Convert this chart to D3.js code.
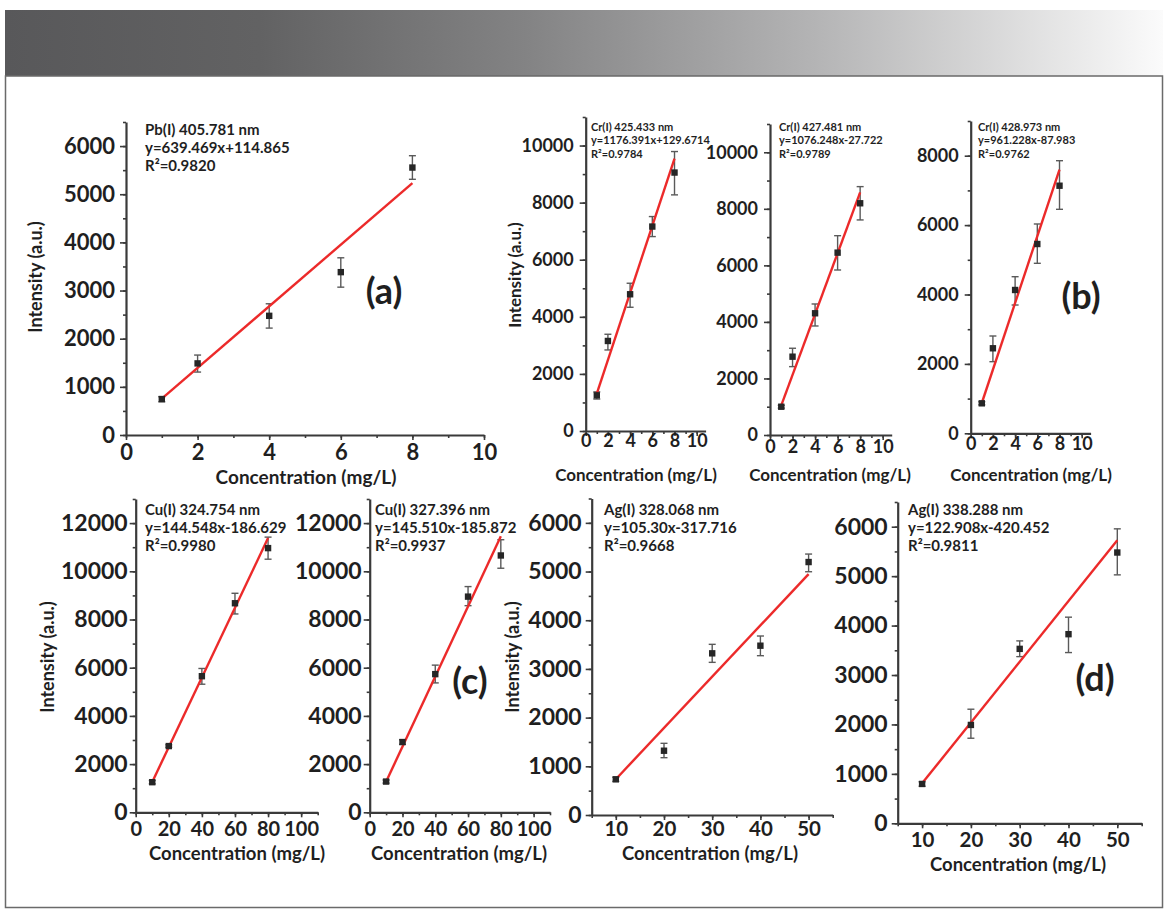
<!DOCTYPE html>
<html>
<head>
<meta charset="utf-8">
<script src="https://cdn.jsdelivr.net/npm/d3@7"></script>
<style>
  body { margin: 0; background: #fff; }
  svg { display: block; }
  text { font-family: Lato, "DejaVu Sans", sans-serif; font-weight: 700; fill: #1f1f1f; }
</style>
</head>
<body>
<div id="chart"></div>
<script>
// ---- datos ----
// concentraciones (mg/L)
const concCr = [1, 2, 4, 6, 8];
const concCu = [10, 20, 40, 60, 80];
const concAg = [10, 20, 30, 40, 50];

// Pb(I) 405.781 nm
const pbMean = [747, 1487, 2475, 3382, 5554];
const pbLow  = [690, 1307, 2220, 3070, 5310];
const pbHigh = [795, 1660, 2725, 3680, 5800];

// Cr(I) 425.433 nm
const cr425Mean = [1250, 3154, 4790, 7162, 9054];
const cr425Low  = [1120, 2839, 4335, 6811, 8272];
const cr425High = [1370, 3389, 5176, 7512, 9790];

// Cr(I) 427.481 nm
const cr427Mean = [1000, 2770, 4305, 6450, 8196];
const cr427Low  = [950, 2418, 3856, 5836, 7607];
const cr427High = [1050, 3068, 4634, 7050, 8785];

// Cr(I) 428.973 nm
const cr428Mean = [864, 2450, 4130, 5455, 7135];
const cr428Low  = [820, 2064, 3697, 4899, 6455];
const cr428High = [910, 2804, 4513, 6032, 7856];

// Cu(I) 324.754 nm
const cu324Mean = [1249, 2748, 5647, 8674, 10962];
const cu324Low  = [1180, 2700, 5315, 8230, 10502];
const cu324High = [1320, 2800, 5968, 9088, 11418];

// Cu(I) 327.396 nm
const cu327Mean = [1275, 2915, 5733, 8949, 10657];
const cu327Low  = [1210, 2820, 5369, 8574, 10127];
const cu327High = [1340, 3010, 6107, 9366, 11310];

// Ag(I) 328.068 nm
const ag328Mean = [733, 1320, 3320, 3477, 5195];
const ag328Low  = [690, 1177, 3135, 3272, 4996];
const ag328High = [775, 1472, 3505, 3676, 5359];

// Ag(I) 338.288 nm
const ag338Mean = [796, 1990, 3529, 3826, 5478];
const ag338Low  = [750, 1721, 3372, 3454, 5026];
const ag338High = [840, 2308, 3690, 4170, 5957];

// rectas de calibrado (de las ecuaciones impresas)
const lineNames  = ["Pb(I) 405.781 nm", "Cr(I) 425.433 nm", "Cr(I) 427.481 nm", "Cr(I) 428.973 nm",
                    "Cu(I) 324.754 nm", "Cu(I) 327.396 nm", "Ag(I) 328.068 nm", "Ag(I) 338.288 nm"];
const equations  = ["y=639.469x+114.865", "y=1176.391x+129.6714", "y=1076.248x-27.722", "y=961.228x-87.983",
                    "y=144.548x-186.629", "y=145.510x-185.872", "y=105.30x-317.716", "y=122.908x-420.452"];
const r2Labels   = ["R²=0.9820", "R²=0.9784", "R²=0.9789", "R²=0.9762",
                    "R²=0.9980", "R²=0.9937", "R²=0.9668", "R²=0.9811"];
const slopes     = [639.469, 1176.391, 1076.248, 961.228, 144.548, 145.510, 105.30, 122.908];
const intercepts = [114.865, 129.6714, -27.722, -87.983, -186.629, -185.872, -317.716, -420.452];

// ticks
const ticksX10  = [0, 2, 4, 6, 8, 10];
const ticksX100 = [0, 20, 40, 60, 80, 100];
const ticksX50  = [10, 20, 30, 40, 50];
const ticksY6000  = [0, 1000, 2000, 3000, 4000, 5000, 6000];
const ticksY8000  = [0, 2000, 4000, 6000, 8000];
const ticksY10000 = [0, 2000, 4000, 6000, 8000, 10000];
const ticksY12000 = [0, 2000, 4000, 6000, 8000, 10000, 12000];

const xTitle = "Concentration (mg/L)";
const yTitle = "Intensity (a.u.)";
const panelTags = ["(a)", "(b)", "(c)", "(d)"];

// ---- series (tabla construida desde los arrays) ----
const series = [
  { x: concCr, m: pbMean,    lo: pbLow,    hi: pbHigh },
  { x: concCr, m: cr425Mean, lo: cr425Low, hi: cr425High },
  { x: concCr, m: cr427Mean, lo: cr427Low, hi: cr427High },
  { x: concCr, m: cr428Mean, lo: cr428Low, hi: cr428High },
  { x: concCu, m: cu324Mean, lo: cu324Low, hi: cu324High },
  { x: concCu, m: cu327Mean, lo: cu327Low, hi: cu327High },
  { x: concAg, m: ag328Mean, lo: ag328Low, hi: ag328High },
  { x: concAg, m: ag338Mean, lo: ag338Low, hi: ag338High }
];

// ---- posiciones de cada gráfico (px) ----
const layout = [
  { x0: 126, x1: 484, yb: 435, yt: 122, xd: [0, 10], yd: [0, 6500], xt: ticksX10, xm: d3.range(0, 11, 1),
    yt_: ticksY6000, ym: d3.range(0, 6501, 500), fy: 22, fx: 22, xoff: 17, ypad: 5,
    ann: [145, 129], fa: 15, lh: 18, xtl: [306, 476], ftx: 19, ytl: [35, 277], fty: 18 },
  { x0: 585.7, x1: 705.6, yb: 431, yt: 117, xd: [0, 10.8], yd: [0, 11000], xt: ticksX10, xm: d3.range(0, 10.9, 1),
    yt_: ticksY10000, ym: d3.range(0, 11001, 1000), fy: 18, fx: 18, xoff: 10, ypad: 6,
    ann: [591, 126], fa: 11, lh: 13.5, xtl: [636, 474], ftx: 17, ytl: [514, 275], fty: 17 },
  { x0: 770, x1: 891.7, yb: 435, yt: 124, xd: [0, 10.8], yd: [0, 11000], xt: ticksX10, xm: d3.range(0, 10.9, 1),
    yt_: ticksY10000, ym: d3.range(0, 11001, 1000), fy: 18, fx: 18, xoff: 12, ypad: 6,
    ann: [779, 126], fa: 11, lh: 13.5, xtl: [830, 474], ftx: 17 },
  { x0: 970.7, x1: 1090.6, yb: 433.3, yt: 121, xd: [0, 10.8], yd: [0, 9000], xt: ticksX10, xm: d3.range(0, 10.9, 1),
    yt_: ticksY8000, ym: d3.range(0, 9001, 1000), fy: 18, fx: 18, xoff: 10, ypad: 6,
    ann: [978, 126], fa: 11, lh: 13.5, xtl: [1031, 474], ftx: 17 },
  { x0: 135.7, x1: 317.7, yb: 812.3, yt: 499, xd: [0, 110], yd: [0, 13000], xt: ticksX100, xm: d3.range(0, 111, 10),
    yt_: ticksY12000, ym: d3.range(0, 13001, 1000), fy: 23, fx: 20, xoff: 17, ypad: 2,
    ann: [145, 509], fa: 15, lh: 18, xtl: [237, 853], ftx: 18.5, ytl: [47, 657], fty: 18 },
  { x0: 369.7, x1: 550, yb: 812.3, yt: 499, xd: [0, 110], yd: [0, 13000], xt: ticksX100, xm: d3.range(0, 111, 10),
    yt_: ticksY12000, ym: d3.range(0, 13001, 1000), fy: 23, fx: 20, xoff: 17, ypad: 2,
    ann: [375, 509], fa: 15, lh: 18, xtl: [459, 853], ftx: 18.5 },
  { x0: 591.7, x1: 832.7, yb: 815, yt: 498.5, xd: [5, 55], yd: [0, 6500], xt: ticksX50, xm: d3.range(5, 56, 5),
    yt_: ticksY6000, ym: d3.range(0, 6501, 500), fy: 23, fx: 20.5, xoff: 14, ypad: 4,
    ann: [604, 509], fa: 15, lh: 18, xtl: [710, 853], ftx: 18.5, ytl: [512, 657], fty: 18 },
  { x0: 897.7, x1: 1141.7, yb: 823.3, yt: 502, xd: [5, 55], yd: [0, 6500], xt: ticksX50, xm: d3.range(5, 56, 5),
    yt_: ticksY6000, ym: d3.range(0, 6501, 500), fy: 23, fx: 20.5, xoff: 16.5, ypad: 4,
    ann: [908, 509], fa: 15, lh: 18, xtl: [1018, 864], ftx: 18.5 }
];
const tagPos = [[384, 290], [1081, 295], [470, 680], [1095, 677]];

const W = 1172, H = 920;
const svg = d3.select("#chart").append("svg").attr("width", W).attr("height", H);

// ---- cabecera con degradado y marco ----
const grad = svg.append("defs").append("linearGradient").attr("id", "hdr");
[[0, "#58585a"], [0.22, "#626263"], [0.45, "#838384"], [0.7, "#b4b4b5"], [1, "#fbfbfb"]]
  .forEach(([o, c]) => grad.append("stop").attr("offset", o).attr("stop-color", c));
svg.append("rect").attr("x", 5).attr("y", 10).attr("width", 1158).attr("height", 66).attr("fill", "url(#hdr)");
svg.append("rect").attr("x", 5.5).attr("y", 76).attr("width", 1157).attr("height", 831.5)
  .attr("fill", "none").attr("stroke", "#6a6a6a").attr("stroke-width", 1.5);

function styleAxis(g) {
  g.selectAll(".domain").attr("stroke", "#3a3a3a").attr("stroke-width", 2.2);
  g.selectAll(".tick line").attr("stroke", "#3a3a3a").attr("stroke-width", 1.6);
}

layout.forEach((p, i) => {
  const s = series[i];
  const x = d3.scaleLinear(p.xd, [p.x0, p.x1]);
  const y = d3.scaleLinear(p.yd, [p.yb, p.yt]);
  const g = svg.append("g");

  // ticks menores
  g.append("g").attr("transform", `translate(0,${p.yb})`)
    .call(d3.axisBottom(x).tickValues(p.xm).tickSize(3).tickFormat(""))
    .call(styleAxis).call(a => a.select(".domain").remove());
  g.append("g").attr("transform", `translate(${p.x0},0)`)
    .call(d3.axisLeft(y).tickValues(p.ym).tickSize(3).tickFormat(""))
    .call(styleAxis).call(a => a.select(".domain").remove());

  // ejes principales
  const xpad = p.xoff - 0.36 * p.fx - 5;
  g.append("g").attr("transform", `translate(0,${p.yb})`)
    .call(d3.axisBottom(x).tickValues(p.xt).tickSize(5).tickSizeOuter(0).tickPadding(xpad).tickFormat(d3.format("d")))
    .call(styleAxis)
    .call(a => a.selectAll("text").attr("font-size", p.fx).attr("fill", "#1f1f1f"));
  g.append("g").attr("transform", `translate(${p.x0},0)`)
    .call(d3.axisLeft(y).tickValues(p.yt_).tickSize(6).tickSizeOuter(0).tickPadding(p.ypad).tickFormat(d3.format("d")))
    .call(styleAxis)
    .call(a => a.selectAll("text").attr("font-size", p.fy).attr("fill", "#1f1f1f"));
  g.selectAll(".tick text").style("font-family", "Lato, 'DejaVu Sans', sans-serif").style("font-weight", 700);

  // barras de error
  const eb = g.append("g").attr("stroke", "#5a5a5a").attr("stroke-width", 1.4);
  s.x.forEach((c, k) => {
    const cx = x(c);
    eb.append("line").attr("x1", cx).attr("x2", cx).attr("y1", y(s.lo[k])).attr("y2", y(s.hi[k]));
    eb.append("line").attr("x1", cx - 3.5).attr("x2", cx + 3.5).attr("y1", y(s.hi[k])).attr("y2", y(s.hi[k]));
    eb.append("line").attr("x1", cx - 3.5).attr("x2", cx + 3.5).attr("y1", y(s.lo[k])).attr("y2", y(s.lo[k]));
  });

  // recta de ajuste
  const xa = s.x[0], xb = s.x[s.x.length - 1];
  g.append("line")
    .attr("x1", x(xa)).attr("y1", y(slopes[i] * xa + intercepts[i]))
    .attr("x2", x(xb)).attr("y2", y(slopes[i] * xb + intercepts[i]))
    .attr("stroke", "#ec2a2a").attr("stroke-width", 2.4);

  // puntos
  g.append("g").selectAll("rect").data(s.x.map((c, k) => [c, s.m[k]])).join("rect")
    .attr("x", d => x(d[0]) - 3.2).attr("y", d => y(d[1]) - 3.2)
    .attr("width", 6.4).attr("height", 6.4).attr("fill", "#262626");

  // anotación
  [lineNames[i], equations[i], r2Labels[i]].forEach((t, k) => {
    g.append("text").attr("x", p.ann[0]).attr("y", p.ann[1] + k * p.lh)
      .attr("dominant-baseline", "central").attr("font-size", p.fa).text(t);
  });

  // títulos de ejes
  g.append("text").attr("x", p.xtl[0]).attr("y", p.xtl[1])
    .attr("text-anchor", "middle").attr("dominant-baseline", "central")
    .attr("font-size", p.ftx).text(xTitle);
  if (p.ytl) {
    g.append("text").attr("transform", `translate(${p.ytl[0]},${p.ytl[1]}) rotate(-90)`)
      .attr("text-anchor", "middle").attr("dominant-baseline", "central")
      .attr("font-size", p.fty).text(yTitle);
  }
});

// etiquetas (a)-(d)
panelTags.forEach((t, k) => {
  svg.append("text").attr("x", tagPos[k][0]).attr("y", tagPos[k][1])
    .attr("text-anchor", "middle").attr("dominant-baseline", "central")
    .attr("font-size", 36).text(t);
});
</script>
</body>
</html>
